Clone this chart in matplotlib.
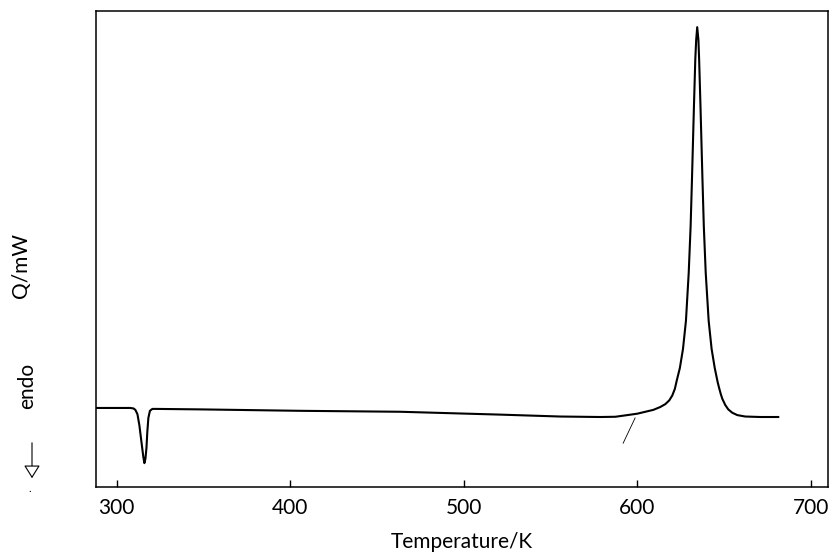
import matplotlib.pyplot as plt
from matplotlib.patches import FancyArrowPatch

# DSC trace (temperature in K, heat flow in arbitrary units)
temperature = [288.0, 307.8, 309.6, 310.7, 311.9, 313.0, 314.2, 315.3, 315.9, 316.5,
               317.1, 317.6, 318.2, 319.1, 320.5, 322.8, 348.2, 405.8, 463.5, 521.1,
               555.7, 578.7, 587.4, 594.3, 600.1, 604.7, 609.3, 613.3, 616.2, 618.5,
               620.2, 621.7, 622.9, 624.6, 626.4, 628.1, 629.7, 630.8, 631.6, 632.7,
               633.5, 634.0, 634.6, 635.3, 635.7, 636.5, 637.6, 638.4, 639.5, 641.2,
               642.9, 644.7, 646.4, 647.3, 648.2, 649.1, 650.8, 652.5, 654.8, 657.7,
               662.3, 671.0, 681.3]
heat_flow = [16.6, 16.6, 16.5, 16.2, 15.3, 13.0, 9.5, 6.3, 5.0, 5.9,
             8.2, 11.6, 14.5, 16.0, 16.4, 16.4, 16.3, 16.0, 15.8, 15.2,
             14.8, 14.7, 14.75, 15.1, 15.4, 15.8, 16.2, 16.8, 17.4, 18.2,
             19.2, 20.6, 22.5, 25.0, 29.0, 34.9, 45.0, 54.8, 64.9, 79.8,
             89.9, 93.9, 96.6, 93.9, 89.9, 79.8, 64.9, 54.8, 45.0, 34.9,
             29.0, 25.0, 22.0, 20.7, 19.5, 18.5, 17.2, 16.3, 15.6, 15.1,
             14.8, 14.7, 14.7]

# onset tangent mark
tangent_t = [598.8, 591.9]
tangent_q = [14.5, 9.2]

xticks = [300, 400, 500, 600, 700]

plt.rcParams['font.family'] = ['Lato', 'DejaVu Sans']
txt = dict(fontsize=15, color='black')

fig = plt.figure(figsize=(8.31, 5.60), dpi=100)
ax = fig.add_axes([0.1155, 0.1304, 0.8809, 0.85])

ax.plot(temperature, heat_flow, color='black', lw=1.5)
ax.plot(tangent_t, tangent_q, color='black', lw=0.6)

ax.set_xlim(288, 710)
ax.set_ylim(0, 100)
ax.set_xticks(xticks)
ax.set_xticklabels([str(t) for t in xticks], **txt)
ax.set_yticks([])
ax.tick_params(axis='x', direction='in', length=5, width=1, pad=8)
for s in ax.spines.values():
    s.set_linewidth(1.1)

ax.set_xlabel('Temperature/K', labelpad=10, **txt)

fig.text(21 / 831, 1 - 265 / 560, 'Q/mW', rotation=90, ha='center', va='center', **txt)
fig.text(27 / 831, 1 - 386 / 560, 'endo', rotation=90, ha='center', va='center', **txt)
arrow = FancyArrowPatch((32 / 831, 1 - 440 / 560), (32 / 831, 1 - 481 / 560),
                        transform=fig.transFigure,
                        arrowstyle='-|>,head_length=8,head_width=5',
                        lw=0.8, edgecolor='black', facecolor='white', mutation_scale=1)
fig.patches.append(arrow)
fig.text(30 / 831, 1 - 488 / 560, '.', ha='center', va='center', fontsize=8)

fig.savefig('out.png', dpi=100)
